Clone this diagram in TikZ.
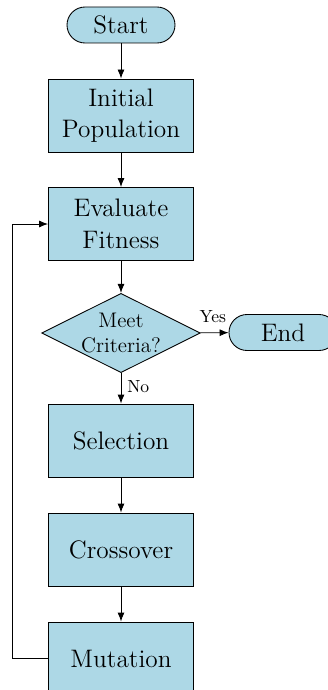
\documentclass[tikz,border=0pt]{standalone}
\usetikzlibrary{arrows.meta,positioning,shapes.geometric}
\definecolor{lightblue}{RGB}{173,216,230}

\begin{document}
\begin{tikzpicture}[line width=0.5pt,>={Latex[length=1.8mm,width=1.4mm]},
   term/.style={draw,rounded corners=3.6mm,fill=lightblue,font=\Large,minimum width=2.16cm,minimum height=0.72cm},
   box/.style={draw,fill=lightblue,align=center,font=\Large,minimum width=2.9cm,minimum height=1.46cm},
   decide/.style={draw,diamond,aspect=2,fill=lightblue,align=center,font=\large,inner sep=0pt}]
  \useasboundingbox (0,0) rectangle (6.54,-13.8);
  \node[term] (start) at (2.42,-0.5) {Start};
  \node[box] (init) at (2.42,-2.31) {Initial\\Population};
  \node[box] (eval) at (2.42,-4.48) {Evaluate\\Fitness};
  \node[decide] (crit) at (2.42,-6.66) {Meet\\Criteria?};
  \node[term] (stop) at (5.66,-6.65) {End};
  \node[box] (sel) at (2.42,-8.81) {Selection};
  \node[box] (cross) at (2.42,-10.99) {Crossover};
  \node[box] (mut) at (2.42,-13.17) {Mutation};
  \draw[->] (start) -- (init);
  \draw[->] (init) -- (eval);
  \draw[->] (eval) -- (crit);
  \draw[->] (crit) -- node[above right=2pt and -4pt,pos=0]{Yes} (stop);
  \draw[->] (crit) -- node[right,pos=0.45]{No} (sel);
  \draw[->] (sel) -- (cross);
  \draw[->] (cross) -- (mut);
  \draw[->] (mut.west) -- ++(-0.72,0) |- (eval.west);
\end{tikzpicture}
\end{document}
